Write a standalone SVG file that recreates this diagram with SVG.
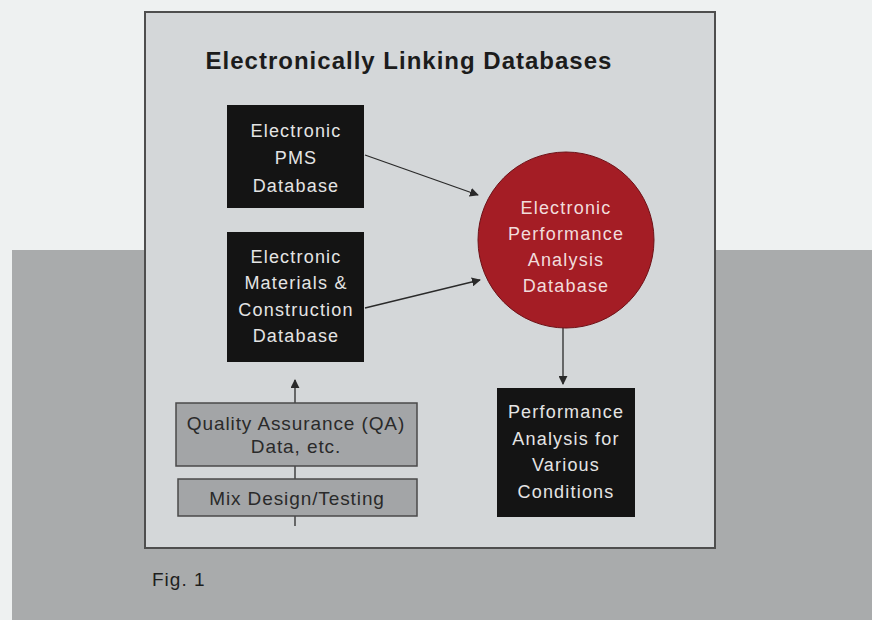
<svg xmlns="http://www.w3.org/2000/svg" width="872" height="620" viewBox="0 0 872 620">
<style>
.dark{fill:#141414}
.wt{font-family:"Liberation Sans",Arial,sans-serif;font-size:18px;fill:#e4e4e4;text-anchor:middle;letter-spacing:1.2px}
.gt{font-family:"Liberation Sans",Arial,sans-serif;font-size:19px;fill:#2a2a2a;text-anchor:middle;letter-spacing:0.9px}
.gbox{fill:#a3a5a7;stroke:#4a4a4a;stroke-width:1.5}
.conn{stroke:#2a2a2a;stroke-width:1.3;fill:none}
</style>
<defs>
<marker id="ah" viewBox="0 0 10 10" refX="9" refY="5" markerWidth="9" markerHeight="9" markerUnits="userSpaceOnUse" orient="auto">
<path d="M0,0 L10,5 L0,10 z" fill="#2a2a2a"/>
</marker>
</defs>
<rect x="0" y="0" width="872" height="620" fill="#eef1f1"/>
<rect x="12" y="250" width="860" height="370" fill="#a9abac"/>
<rect x="145" y="12" width="570" height="536" fill="#d4d7d9" stroke="#4e4e4e" stroke-width="2"/>
<text x="409" y="69" font-family="Liberation Sans,Arial,sans-serif" font-size="24" font-weight="bold" fill="#1c1c1c" text-anchor="middle" letter-spacing="1">Electronically Linking Databases</text>
<text x="152" y="586" font-family="Liberation Sans,Arial,sans-serif" font-size="19" fill="#1e1e1e" letter-spacing="1">Fig. 1</text>
<g id="connectors">
<line class="conn" x1="365" y1="155" x2="478" y2="195" marker-end="url(#ah)"/>
<line class="conn" x1="365" y1="308" x2="480" y2="280" marker-end="url(#ah)"/>
<line class="conn" x1="563" y1="327" x2="563" y2="384" marker-end="url(#ah)"/>
<line class="conn" x1="295" y1="526" x2="295" y2="380" marker-end="url(#ah)"/>
</g>
<g id="pms">
<rect class="dark" x="227" y="105" width="137" height="103"/>
<text class="wt" x="296" y="137">Electronic</text>
<text class="wt" x="296" y="164">PMS</text>
<text class="wt" x="296" y="192">Database</text>
</g>
<g id="materials">
<rect class="dark" x="227" y="232" width="137" height="130"/>
<text class="wt" x="296" y="263">Electronic</text>
<text class="wt" x="296" y="289">Materials &amp;</text>
<text class="wt" x="296" y="316">Construction</text>
<text class="wt" x="296" y="342">Database</text>
</g>
<g id="epad">
<circle cx="566" cy="240" r="88" fill="#a41d25" stroke="#6e1218" stroke-width="1"/>
<text class="wt" x="566" y="214" style="fill:#f1dcdc">Electronic</text>
<text class="wt" x="566" y="240" style="fill:#f1dcdc">Performance</text>
<text class="wt" x="566" y="266" style="fill:#f1dcdc">Analysis</text>
<text class="wt" x="566" y="292" style="fill:#f1dcdc">Database</text>
</g>
<g id="performance">
<rect class="dark" x="497" y="388" width="138" height="129"/>
<text class="wt" x="566" y="418">Performance</text>
<text class="wt" x="566" y="445">Analysis for</text>
<text class="wt" x="566" y="471">Various</text>
<text class="wt" x="566" y="498">Conditions</text>
</g>
<g id="qa">
<rect class="gbox" x="176" y="403" width="241" height="63"/>
<text class="gt" x="296" y="430">Quality Assurance (QA)</text>
<text class="gt" x="296" y="453">Data, etc.</text>
</g>
<g id="mix">
<rect class="gbox" x="178" y="479" width="239" height="37"/>
<text class="gt" x="297" y="505">Mix Design/Testing</text>
</g>
</svg>
